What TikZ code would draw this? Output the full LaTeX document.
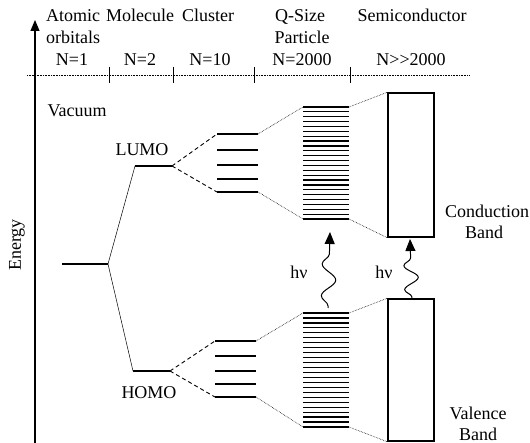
\documentclass[tikz,border=0pt]{standalone}
\usepackage{fontspec}
\setmainfont{Liberation Serif}
\usetikzlibrary{decorations.pathmorphing,arrows.meta}
\begin{document}
\begin{tikzpicture}[x=1pt,y=-1pt,
  lbl/.style={font=\fontsize{18}{21}\selectfont, inner sep=0pt},
  lvl/.style={line width=1.2pt},
  dotline/.style={densely dotted, line width=0.6pt},
  dashline/.style={dash pattern=on 4pt off 3pt, line width=0.9pt},
  splitline/.style={line width=0.5pt},
  boxline/.style={line width=1.5pt},
  tickline/.style={line width=0.8pt},
  wave/.style={decorate, decoration={snake, amplitude=7pt, segment length=#1, pre length=2pt, post length=10pt}, line width=1pt},
  wavetip/.style={-{Triangle[length=12pt,width=10pt]}}
]
\useasboundingbox (0,0) rectangle (530,443);

% energy axis
\coordinate (axB) at (35,443);
\coordinate (axT) at (35,20);
\draw[line width=1.2pt, -{Triangle[length=11pt,width=9pt]}] (axB) -- (axT);
\node[lbl, rotate=90] (energy) at (17,245) {Energy};

% header
\node[lbl, anchor=base west] (atomic) at (46,22) {Atomic};
\node[lbl, anchor=base west] (orbitals) at (46,44) {orbitals};
\node[lbl, anchor=base] (molecule) at (140,22) {Molecule};
\node[lbl, anchor=base] (cluster) at (208,22) {Cluster};
\node[lbl, anchor=base] (qsize) at (300,22) {Q-Size};
\node[lbl, anchor=base] (particle) at (302,44) {Particle};
\node[lbl, anchor=base] (semi) at (412,22) {Semiconductor};
\node[lbl, anchor=base] (n1) at (72,66) {N=1};
\node[lbl, anchor=base] (n2) at (140,66) {N=2};
\node[lbl, anchor=base] (n10) at (210,66) {N=10};
\node[lbl, anchor=base] (n2000) at (302,66) {N=2000};
\node[lbl, anchor=base] (nbig) at (411,66) {N>{}>2000};

\coordinate (hL) at (27,75);
\coordinate (hR) at (470,75);
\draw[dotline] (hL) -- (hR);
\foreach \x [count=\i] in {109,173,254,350}{
  \coordinate (tt\i) at (\x,67);
  \coordinate (tb\i) at (\x,83);
  \draw[tickline] (tt\i) -- (tb\i);
}

% labels
\node[lbl, anchor=base] (vacuum) at (77,117) {Vacuum};
\node[lbl, anchor=base] (lumo) at (142,156) {LUMO};
\node[lbl, anchor=base] (homo) at (149,399) {HOMO};
\node[lbl, anchor=base] (hv1) at (299,279) {hν};
\node[lbl, anchor=base] (hv2) at (384,279) {hν};
\node[lbl, anchor=base] (cond) at (487,218) {Conduction};
\node[lbl, anchor=base] (cband) at (484,239) {Band};
\node[lbl, anchor=base] (val) at (478,419) {Valence};
\node[lbl, anchor=base] (vband) at (478,440) {Band};

% atomic, LUMO, HOMO levels
\coordinate (a1) at (62,264);
\coordinate (a2) at (108,264);
\coordinate (l1) at (135,166);
\coordinate (l2) at (172,166);
\coordinate (h1) at (133,371);
\coordinate (h2) at (170,371);
\draw[lvl] (a1) -- (a2);
\draw[lvl] (l1) -- (l2);
\draw[lvl] (h1) -- (h2);
\draw[splitline] (a2) -- (l1);
\draw[splitline] (a2) -- (h1);

% cluster levels
\foreach \y [count=\i] in {134,150,165,179,192}{
  \coordinate (cuL\i) at (217,\y);
  \coordinate (cuR\i) at (258,\y);
  \draw[lvl] (cuL\i) -- (cuR\i);
}
\foreach \y [count=\i] in {341,356,371,384,397}{
  \coordinate (clL\i) at (215,\y);
  \coordinate (clR\i) at (256,\y);
  \draw[lvl] (clL\i) -- (clR\i);
}
\draw[dashline] (l2) -- (cuL1);
\draw[dashline] (l2) -- (cuL5);
\draw[dashline] (h2) -- (clL1);
\draw[dashline] (h2) -- (clL5);

% Q-size bands
\foreach \i in {0,...,23}{
  \draw[lvl] (303,{107+\i*112/23}) -- (349,{107+\i*112/23});
  \draw[lvl] (303,{313+\i*114/23}) -- (349,{313+\i*114/23});
}
\coordinate (quTL) at (303,107);
\coordinate (quTR) at (349,107);
\coordinate (quBL) at (303,219);
\coordinate (quBR) at (349,219);
\coordinate (qlTL) at (303,313);
\coordinate (qlTR) at (349,313);
\coordinate (qlBL) at (303,427);
\coordinate (qlBR) at (349,427);

% semiconductor bands
\node[draw, boxline, minimum width=46pt, minimum height=144pt, inner sep=0pt] (cb) at (411,165) {};
\node[draw, boxline, minimum width=46pt, minimum height=142pt, inner sep=0pt] (vb) at (411,370) {};

% dotted correlation lines
\draw[dotline] (cuR1) -- (quTL);
\draw[dotline] (cuR5) -- (quBL);
\draw[dotline] (quTR) -- (cb.north west);
\draw[dotline] (quBR) -- (cb.south west);
\draw[dotline] (clR1) -- (qlTL);
\draw[dotline] (clR5) -- (qlBL);
\draw[dotline] (qlTR) -- (vb.north west);
\draw[dotline] (qlBR) -- (vb.south west);

% photon arrows
\coordinate (w1s) at (328,308);
\coordinate (w1e) at (330,232);
\coordinate (w2s) at (412,299);
\coordinate (w2e) at (410,239);
\draw[wave=32pt, wavetip] (w1s) -- (w1e);
\draw[wave=24pt, wavetip] (w2s) -- (w2e);
\end{tikzpicture}
\end{document}
